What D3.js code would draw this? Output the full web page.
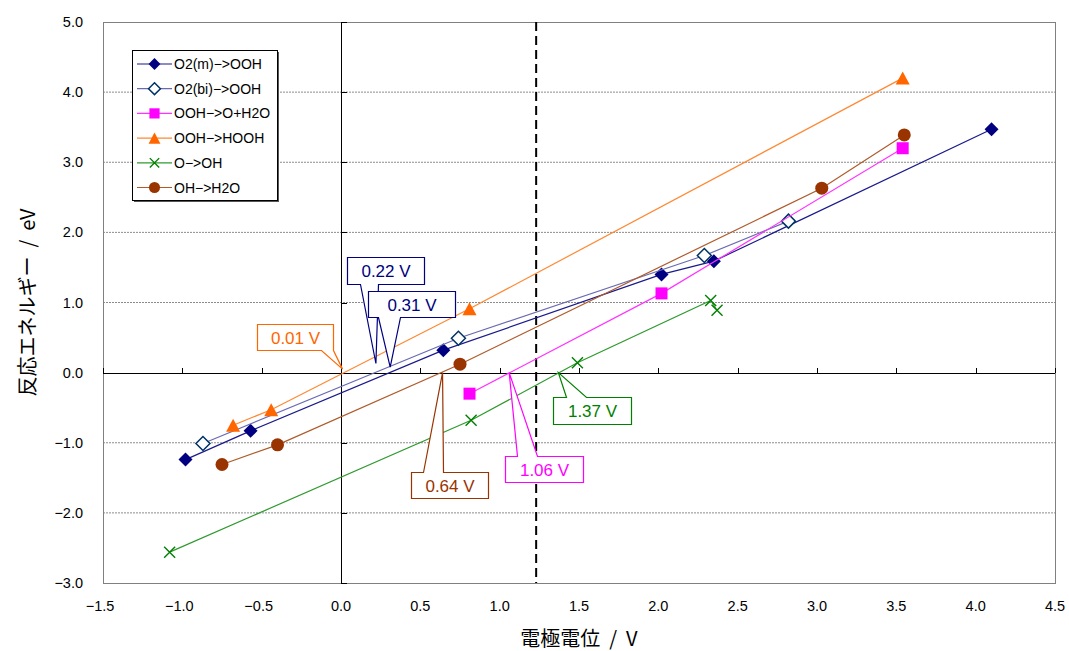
<!DOCTYPE html>
<html>
<head>
<meta charset="utf-8">
<script src="https://cdn.jsdelivr.net/npm/d3@7"></script>
<style>
  body { margin: 0; background: #fff; }
  svg { display: block; }
  .tick-label { font-family: "Liberation Sans", Arial, sans-serif; font-size: 14.5px; fill: #000; }
  .axis-title { font-family: "Noto Sans CJK JP", sans-serif; font-size: 20px; fill: #000; }
  .legend-text { font-family: "Liberation Sans", Arial, sans-serif; font-size: 14px; fill: #000; }
  .callout-text { font-family: "Liberation Sans", Arial, sans-serif; font-size: 17px; }
</style>
</head>
<body>
<div id="chart"></div>
<script>
// Series data (x = 電極電位 / V, y = 反応エネルギー / eV)
const seriesNames = ['O2(m)−>OOH', 'O2(bi)−>OOH', 'OOH−>O+H2O', 'OOH−>HOOH', 'O−>OH', 'OH−>H2O'];

const o2mX = [-0.98, -0.57, 0.645, 2.02, 2.35, 4.10];
const o2mY = [-1.24, -0.83, 0.32, 1.40, 1.59, 3.47];

const o2biX = [-0.87, 0.74, 2.29, 2.82];
const o2biY = [-1.01, 0.49, 1.67, 2.16];

const oohOX = [0.81, 2.02, 3.54];
const oohOY = [-0.30, 1.13, 3.20];

const oohHoohX = [-0.68, -0.44, 0.81, 3.54];
const oohHoohY = [-0.75, -0.53, 0.91, 4.20];

const oOhX = [-1.08, 0.82, 1.49, 2.33, 2.37];
const oOhY = [-2.56, -0.68, 0.14, 1.03, 0.89];

const ohH2oX = [-0.75, -0.40, 0.75, 3.03, 3.55];
const ohH2oY = [-1.31, -1.03, 0.12, 2.63, 3.39];

// Onset potentials marked with callouts
const calloutValues = [0.01, 0.22, 0.31, 0.64, 1.06, 1.37];
const calloutLabels = ['0.01 V', '0.22 V', '0.31 V', '0.64 V', '1.06 V', '1.37 V'];

// Equilibrium potential (dashed line)
const equilibriumPotential = 1.23;

// Axis ticks
const xTicks = [-1.5, -1.0, -0.5, 0.0, 0.5, 1.0, 1.5, 2.0, 2.5, 3.0, 3.5, 4.0, 4.5];
const yTicks = [-3.0, -2.0, -1.0, 0.0, 1.0, 2.0, 3.0, 4.0, 5.0];

const width = 1069;
const height = 651;
const margin = { top: 22, right: 14, bottom: 68, left: 103 };

const svg = d3.select('#chart')
  .append('svg')
  .attr('width', width)
  .attr('height', height);

const x = d3.scaleLinear()
  .domain([-1.5, 4.5])
  .range([margin.left, width - margin.right]);

const y = d3.scaleLinear()
  .domain([-3, 5])
  .range([height - margin.bottom, margin.top]);

const fmt = v => d3.format('.1f')(v).replace('-', '−');

// Series styles
const styles = [
  { line: '#1a1a8c', marker: 'diamond', fill: '#000080', stroke: '#000080' },
  { line: '#6a6ab4', marker: 'diamond', fill: '#fff', stroke: '#003366' },
  { line: '#ff33ff', marker: 'square', fill: '#ff00ff', stroke: '#ff00ff' },
  { line: '#ff8833', marker: 'triangle', fill: '#ff6600', stroke: '#ff6600' },
  { line: '#2e9a2e', marker: 'cross', fill: 'none', stroke: '#008000' },
  { line: '#b05a2a', marker: 'circle', fill: '#993300', stroke: '#993300' }
];

const series = [
  [o2mX, o2mY], [o2biX, o2biY], [oohOX, oohOY],
  [oohHoohX, oohHoohY], [oOhX, oOhY], [ohH2oX, ohH2oY]
].map(([xs, ys], i) => ({
  name: seriesNames[i],
  style: styles[i],
  points: xs.map((v, j) => [v, ys[j]])
}));

// Marker shapes as path strings, centred on 0,0
function markerPath(type, s = 1) {
  if (type === 'diamond') {
    const r = 7 * s;
    return `M0,${-r}L${r},0L0,${r}L${-r},0Z`;
  }
  if (type === 'square') {
    const r = 6 * s;
    return `M${-r},${-r}H${r}V${r}H${-r}Z`;
  }
  if (type === 'triangle') {
    const w = 7 * s, h = 6.5 * s;
    return `M0,${-h}L${w},${h}L${-w},${h}Z`;
  }
  if (type === 'circle') {
    const r = 6.5 * s;
    return `M${r},0A${r},${r} 0 1,1 ${-r},0A${r},${r} 0 1,1 ${r},0Z`;
  }
  const r = 5.5 * s;
  return `M${-r},${-r}L${r},${r}M${-r},${r}L${r},${-r}`;
}

const plotW = width - margin.left - margin.right;
const plotH = height - margin.top - margin.bottom;

// Plot area
svg.append('rect')
  .attr('x', margin.left)
  .attr('y', margin.top)
  .attr('width', plotW)
  .attr('height', plotH)
  .attr('fill', '#fff');

// Horizontal gridlines
svg.append('g')
  .selectAll('line')
  .data(yTicks.filter(v => v !== 0 && v !== 5 && v !== -3))
  .join('line')
  .attr('x1', margin.left)
  .attr('x2', width - margin.right)
  .attr('y1', d => y(d))
  .attr('y2', d => y(d))
  .attr('stroke', '#8c8c8c')
  .attr('stroke-width', 1)
  .attr('stroke-dasharray', '2,1');

// Plot border
svg.append('rect')
  .attr('x', margin.left + 0.5)
  .attr('y', margin.top + 0.5)
  .attr('width', plotW)
  .attr('height', plotH)
  .attr('fill', 'none')
  .attr('stroke', '#808080');

// Zero axes
svg.append('line')
  .attr('x1', margin.left).attr('x2', width - margin.right)
  .attr('y1', Math.round(y(0)) + 0.5).attr('y2', Math.round(y(0)) + 0.5)
  .attr('stroke', '#000');

svg.append('line')
  .attr('x1', Math.round(x(0)) + 0.5).attr('x2', Math.round(x(0)) + 0.5)
  .attr('y1', margin.top).attr('y2', height - margin.bottom)
  .attr('stroke', '#000');

// Tick marks on the zero axes
svg.append('g')
  .selectAll('line')
  .data(xTicks)
  .join('line')
  .attr('x1', d => Math.round(x(d)) + 0.5)
  .attr('x2', d => Math.round(x(d)) + 0.5)
  .attr('y1', Math.round(y(0)))
  .attr('y2', Math.round(y(0)) - 5)
  .attr('stroke', '#000');

svg.append('g')
  .selectAll('line')
  .data(yTicks)
  .join('line')
  .attr('x1', Math.round(x(0)))
  .attr('x2', Math.round(x(0)) + 6)
  .attr('y1', d => Math.round(y(d)) + 0.5)
  .attr('y2', d => Math.round(y(d)) + 0.5)
  .attr('stroke', '#000');

// Tick labels at the outer edges
svg.append('g')
  .selectAll('text')
  .data(yTicks)
  .join('text')
  .attr('class', 'tick-label')
  .attr('x', margin.left - 20)
  .attr('y', d => y(d))
  .attr('dy', '0.35em')
  .attr('text-anchor', 'end')
  .text(fmt);

svg.append('g')
  .selectAll('text')
  .data(xTicks)
  .join('text')
  .attr('class', 'tick-label')
  .attr('x', d => x(d) - (d < 0 ? 3 : 0))
  .attr('y', height - margin.bottom + 23)
  .attr('dy', '0.35em')
  .attr('text-anchor', 'middle')
  .text(fmt);

// Axis titles
svg.append('text')
  .attr('class', 'axis-title')
  .attr('x', margin.left + plotW / 2)
  .attr('y', 639)
  .attr('dy', '0.35em')
  .attr('text-anchor', 'middle')
  .style('white-space', 'pre')
  .text('電極電位  /  V');

svg.append('text')
  .attr('class', 'axis-title')
  .attr('transform', `translate(28,${margin.top + plotH / 2}) rotate(-90)`)
  .attr('dy', '0.35em')
  .attr('text-anchor', 'middle')
  .style('white-space', 'pre')
  .text('反応エネルギー  /  eV');

// Equilibrium potential dashed line
svg.append('line')
  .attr('x1', x(equilibriumPotential)).attr('x2', x(equilibriumPotential))
  .attr('y1', margin.top).attr('y2', height - margin.bottom)
  .attr('stroke', '#000')
  .attr('stroke-width', 2)
  .attr('stroke-dasharray', '9,5');

// Series lines and markers
const line = d3.line()
  .x(d => x(d[0]))
  .y(d => y(d[1]));

series.forEach(s => {
  const g = svg.append('g');
  g.append('path')
    .attr('d', line(s.points))
    .attr('fill', 'none')
    .attr('stroke', s.style.line)
    .attr('stroke-width', 1.2);
  g.selectAll('path.marker')
    .data(s.points)
    .join('path')
    .attr('class', 'marker')
    .attr('transform', d => `translate(${x(d[0])},${y(d[1])})`)
    .attr('d', markerPath(s.style.marker))
    .attr('fill', s.style.fill)
    .attr('stroke', s.style.stroke)
    .attr('stroke-width', s.style.marker === 'cross' ? 1.4 : (s.style.fill === '#fff' ? 1.5 : 0));
});

// Callouts: box offsets are relative to the tip, wedge is on the bottom or top edge
const calloutColors = ['#ff6600', '#000080', '#000080', '#993300', '#ff00ff', '#008000'];
const calloutTipY = [0.05, 0.13, 0.08, 0, 0, 0];
const calloutLayout = [
  { dx: -86, dy: -45, w: 76, h: 26, side: 'bottom', w1: 64, w2: 76 },
  { dx: -29, dy: -107, w: 77, h: 27, side: 'bottom', w1: 13, w2: 31 },
  { dx: -22, dy: -76, w: 87, h: 26, side: 'bottom', w1: 10, w2: 32 },
  { dx: -32, dy: 99, w: 77, h: 26, side: 'top', w1: 12, w2: 32 },
  { dx: -4, dy: 83, w: 78, h: 26, side: 'top', w1: 12, w2: 32 },
  { dx: -5, dy: 24, w: 78, h: 27, side: 'top', w1: 13, w2: 33 }
];

calloutValues.forEach((v, i) => {
  const tx = x(v), ty = y(calloutTipY[i]);
  const L = calloutLayout[i];
  const l = Math.round(tx + L.dx) + 0.5, t = Math.round(ty + L.dy) + 0.5;
  const r = l + L.w, b = t + L.h;
  let d;
  if (L.side === 'bottom') {
    d = `M${l},${t}H${r}V${b}H${l + L.w2}L${tx},${ty}L${l + L.w1},${b}H${l}Z`;
  } else {
    d = `M${l},${t}H${l + L.w1}L${tx},${ty}L${l + L.w2},${t}H${r}V${b}H${l}Z`;
  }
  svg.append('path')
    .attr('d', d)
    .attr('fill', '#fff')
    .attr('stroke', calloutColors[i])
    .attr('stroke-width', 1.2);
  svg.append('text')
    .attr('class', 'callout-text')
    .attr('x', l + L.w / 2)
    .attr('y', t + L.h / 2)
    .attr('dy', '0.36em')
    .attr('text-anchor', 'middle')
    .attr('fill', calloutColors[i])
    .text(calloutLabels[i]);
});

// Legend
const legend = svg.append('g').attr('transform', 'translate(132,50)');
legend.append('rect')
  .attr('x', 2).attr('y', 2)
  .attr('width', 145).attr('height', 150)
  .attr('fill', '#555');
legend.append('rect')
  .attr('x', 0.5).attr('y', 0.5)
  .attr('width', 145).attr('height', 150)
  .attr('fill', '#fff')
  .attr('stroke', '#000');

const items = legend.selectAll('g.item')
  .data(series)
  .join('g')
  .attr('class', 'item')
  .attr('transform', (d, i) => `translate(0,${14 + i * 24.7})`);

items.append('line')
  .attr('x1', 5).attr('x2', 40)
  .attr('stroke', d => d.style.line)
  .attr('stroke-width', 1.2);

items.append('path')
  .attr('transform', 'translate(22.5,0)')
  .attr('d', d => markerPath(d.style.marker, 0.85))
  .attr('fill', d => d.style.fill)
  .attr('stroke', d => d.style.stroke)
  .attr('stroke-width', d => d.style.marker === 'cross' ? 1.4 : (d.style.fill === '#fff' ? 1.5 : 0));

items.append('text')
  .attr('class', 'legend-text')
  .attr('x', 42)
  .attr('dy', '0.36em')
  .text(d => d.name);
</script>
</body>
</html>
